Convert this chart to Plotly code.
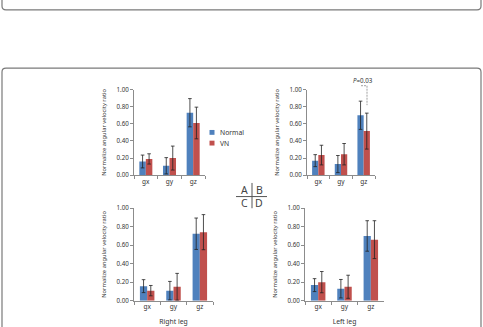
import plotly.graph_objects as go

# ---------------- data ----------------
categories = ["gx", "gy", "gz"]
series_names = ["Normal", "VN"]
panel_letters = ["A", "B", "C", "D"]
x_titles = ["", "", "Right leg", "Left leg"]
y_title = "Normalize angular velocity ratio"
y_tick_values = [0.0, 0.2, 0.4, 0.6, 0.8, 1.0]
y_tick_labels = ["0.00", "0.20", "0.40", "0.60", "0.80", "1.00"]

normal_A = [0.16, 0.11, 0.73]
normal_A_err = [0.075, 0.095, 0.165]
vn_A = [0.19, 0.20, 0.61]
vn_A_err = [0.06, 0.14, 0.185]

normal_B = [0.17, 0.13, 0.70]
normal_B_err = [0.07, 0.10, 0.165]
vn_B = [0.235, 0.245, 0.515]
vn_B_err = [0.115, 0.125, 0.21]

normal_C = [0.157, 0.108, 0.724]
normal_C_err = [0.07, 0.10, 0.17]
vn_C = [0.108, 0.15, 0.741]
vn_C_err = [0.056, 0.145, 0.19]

normal_D = [0.168, 0.129, 0.70]
normal_D_err = [0.07, 0.10, 0.165]
vn_D = [0.20, 0.15, 0.66]
vn_D_err = [0.115, 0.125, 0.205]

p_label = "<i>P</i>=0.03"

normal_vals = [normal_A, normal_B, normal_C, normal_D]
normal_errs = [normal_A_err, normal_B_err, normal_C_err, normal_D_err]
vn_vals = [vn_A, vn_B, vn_C, vn_D]
vn_errs = [vn_A_err, vn_B_err, vn_C_err, vn_D_err]

# ---------------- styling / layout ----------------
W, H = 483, 327
BLUE = "#4F81BD"
RED = "#C0504D"
AXIS_GREY = "#8c8c8c"
TEXT = "#333333"
FONT = "Noto Sans"


def px(x):
    return x / W


def py(y):
    return 1 - y / H


# panel rectangles in pixels: left, right, top (value 1.0), bottom (value 0)
panels = [
    (134, 205, 87, 175),
    (307, 375, 87, 175),
    (134, 213, 209, 304),
    (305, 384, 209, 304),
]

fig = go.Figure()
layout = dict(
    width=W, height=H,
    margin=dict(l=0, r=0, t=0, b=0),
    paper_bgcolor="white", plot_bgcolor="white",
    showlegend=False,
    barmode="group", bargap=0.45, bargroupgap=0.0,
    font=dict(family=FONT, size=6, color=TEXT),
)

for i, (l, r, t, b) in enumerate(panels):
    sfx = "" if i == 0 else str(i + 1)
    xa, ya = "x" + sfx, "y" + sfx
    for name, vals, errs, col in (
        (series_names[0], normal_vals[i], normal_errs[i], BLUE),
        (series_names[1], vn_vals[i], vn_errs[i], RED),
    ):
        fig.add_trace(go.Bar(
            x=categories, y=vals, name=name, marker_color=col,
            marker_line_width=0,
            error_y=dict(type="data", array=errs, visible=True,
                         color="#222222", thickness=0.8, width=1.8),
            xaxis=xa, yaxis=ya, showlegend=False,
        ))
    layout["xaxis" + sfx] = dict(
        domain=[px(l), px(r)], anchor=ya, type="category",
        categoryorder="array", categoryarray=categories,
        showline=True, linecolor=AXIS_GREY, linewidth=1,
        ticks="outside", tickson="boundaries", ticklen=3, tickcolor=AXIS_GREY,
        tickfont=dict(size=6.5, color=TEXT), showgrid=False, zeroline=False,
        title=dict(text=x_titles[i], font=dict(size=6.8, color=TEXT), standoff=8),
        fixedrange=True,
    )
    layout["yaxis" + sfx] = dict(
        domain=[py(b), py(t)], anchor=xa, range=[0, 1],
        tickvals=y_tick_values, ticktext=y_tick_labels,
        showline=True, linecolor=AXIS_GREY, linewidth=1,
        ticks="outside", ticklen=3, tickcolor=AXIS_GREY,
        tickfont=dict(size=6.2, color=TEXT), showgrid=False, zeroline=False,
        title=dict(text=y_title, font=dict(size=5.8, color=TEXT), standoff=9),
        fixedrange=True,
    )

fig.update_layout(**layout)

shapes = []
annotations = []

# outer rounded frames
line = dict(color="#7a7a7a", width=1.2)
shapes.append(dict(
    type="path", xref="paper", yref="paper", line=line,
    path=(f"M {px(2)},{py(-10)} L {px(2)},{py(1)} Q {px(2)},{py(5)} {px(6)},{py(5)} "
          f"L {px(477)},{py(5)} Q {px(481)},{py(5)} {px(481)},{py(1)} L {px(481)},{py(-10)}"),
))
shapes.append(dict(
    type="path", xref="paper", yref="paper", line=line,
    path=(f"M {px(2)},{py(340)} L {px(2)},{py(69)} Q {px(2)},{py(65)} {px(6)},{py(65)} "
          f"L {px(477)},{py(65)} Q {px(481)},{py(65)} {px(481)},{py(69)} L {px(481)},{py(340)}"),
))

# centre cross with panel letters
cross = dict(color="#555555", width=1)
shapes.append(dict(type="line", xref="paper", yref="paper",
                   x0=px(252), x1=px(252), y0=py(183), y1=py(209), line=cross))
shapes.append(dict(type="line", xref="paper", yref="paper",
                   x0=px(236), x1=px(267), y0=py(197), y1=py(197), line=cross))
letter_pos = [(244, 190), (259, 190), (244, 204), (259, 204)]
for letter, (lx, ly) in zip(panel_letters, letter_pos):
    annotations.append(dict(text=letter, x=px(lx), y=py(ly), xref="paper", yref="paper",
                            showarrow=False, xanchor="center", yanchor="middle",
                            font=dict(size=10.5, color="#444444", family=FONT)))

# legend (swatches + labels)
for name, col, ly in ((series_names[0], BLUE, 131), (series_names[1], RED, 142)):
    shapes.append(dict(type="rect", xref="paper", yref="paper",
                       x0=px(209.5), x1=px(214.5), y0=py(ly + 2.5), y1=py(ly - 2.5),
                       fillcolor=col, line=dict(width=0)))
    annotations.append(dict(text=name, x=px(218), y=py(ly), xref="paper", yref="paper",
                            showarrow=False, xanchor="left", yanchor="middle",
                            font=dict(size=6.8, color=TEXT, family=FONT)))

# significance bracket on panel B
dash = dict(color="#888888", width=0.8, dash="2px,1px")
shapes.append(dict(type="line", xref="paper", yref="paper",
                   x0=px(367), x1=px(367), y0=py(83), y1=py(103), line=dash))
shapes.append(dict(type="line", xref="paper", yref="paper",
                   x0=px(361), x1=px(367), y0=py(83), y1=py(83), line=dash))
annotations.append(dict(text=p_label, x=px(363), y=py(78), xref="paper", yref="paper",
                        showarrow=False, xanchor="center", yanchor="middle",
                        font=dict(size=6.2, color=TEXT, family=FONT)))

fig.update_layout(shapes=shapes, annotations=annotations)
fig.write_html("out.html")
